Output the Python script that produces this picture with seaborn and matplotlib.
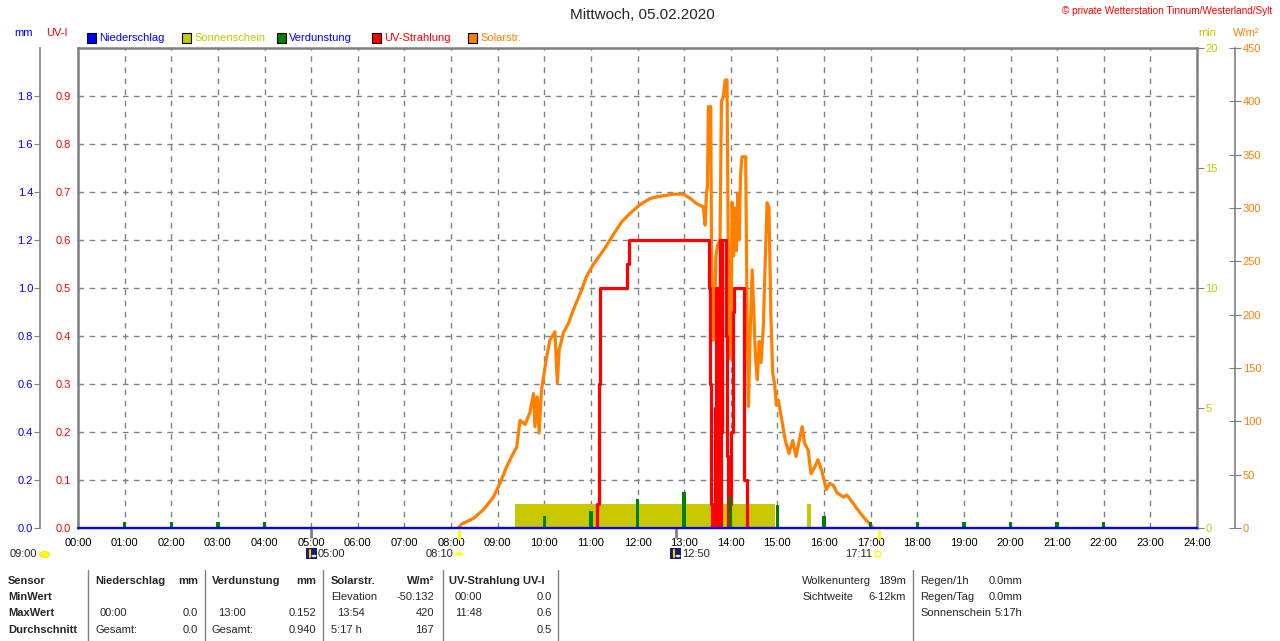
import matplotlib
matplotlib.use("Agg")
import matplotlib.pyplot as plt
import seaborn as sns
import numpy as np
from matplotlib.patches import Rectangle, Ellipse, Circle
from matplotlib.lines import Line2D

# ---------------- data ----------------
hours = list(range(0, 25))
hour_labels = [f"{h:02d}:00" for h in hours]

# Solar radiation (W/m2)
solar_t = [8.15, 8.24, 8.48, 8.69, 8.91, 9.05, 9.19, 9.30, 9.41, 9.48,
           9.59, 9.69, 9.77, 9.80, 9.85, 9.89, 9.94, 10.05, 10.12, 10.23,
           10.28, 10.32, 10.41, 10.52, 10.62, 10.77, 10.91, 11.05, 11.20, 11.34,
           11.48, 11.66, 11.84, 12.05, 12.27, 12.48, 12.77, 12.98, 13.13, 13.27,
           13.41, 13.45, 13.48, 13.50, 13.52, 13.57, 13.59, 13.62, 13.65, 13.68,
           13.72, 13.77, 13.80, 13.84, 13.88, 13.92, 13.94, 13.97, 14.00, 14.03,
           14.06, 14.09, 14.12, 14.15, 14.18, 14.21, 14.24, 14.32, 14.35, 14.38,
           14.42, 14.46, 14.50, 14.53, 14.57, 14.61, 14.65, 14.70, 14.74, 14.78,
           14.82, 14.86, 14.90, 14.94, 14.98, 15.02, 15.08, 15.17, 15.25, 15.33,
           15.40, 15.47, 15.53, 15.58, 15.66, 15.72, 15.80, 15.87, 15.95, 16.05,
           16.12, 16.20, 16.28, 16.42, 16.49, 16.61, 16.76, 16.91, 17.00, 17.05]
solar_w = [0, 4, 9, 17, 29, 42, 57, 67, 76, 101,
           97, 108, 126, 95, 123, 89, 129, 160, 176, 184,
           136, 167, 183, 192, 204, 220, 236, 247, 256, 265,
           275, 287, 295, 303, 309, 311, 313, 313, 309, 304,
           301, 284, 314, 320, 395, 395, 250, 176, 180, 255,
           265, 270, 400, 404, 420, 420, 298, 159, 160, 305,
           255, 300, 260, 314, 270, 330, 348, 348, 200, 114,
           190, 242, 195, 160, 139, 175, 155, 190, 250, 305,
           300, 200, 145, 135, 115, 120, 105, 82, 70, 82,
           67, 82, 95, 80, 73, 51, 57, 64, 54, 36,
           42, 40, 33, 29, 31, 24, 15, 7, 3, 0]

# UV index (step line)
uv_t = [0.0, 11.14, 11.17, 11.19, 11.77, 11.81, 13.54, 13.56, 13.58, 13.60,
        13.66, 13.68, 13.70, 13.71, 13.72, 13.74, 13.75, 13.76, 13.78, 13.79,
        13.81, 13.82, 13.89, 13.91, 13.94,
        13.99, 14.01, 14.04, 14.06, 14.28, 14.34, 24.0]
uv_v = [0.0, 0.05, 0.3, 0.5, 0.55, 0.6, 0.5, 0.3, 0.05, 0.0,
        0.25, 0.5, 0.05, 0.5, 0.0, 0.3, 0.05, 0.6, 0.0, 0.6,
        0.2, 0.6, 0.4, 0.15, 0.0,
        0.05, 0.2, 0.45, 0.5, 0.1, 0.0, 0.0]

# Evaporation (mm per hour)
evap_t = [1, 2, 3, 4, 10, 11, 12, 13, 14, 15, 16, 17, 18, 19, 20, 21, 22]
evap_v = [0.025, 0.025, 0.025, 0.025, 0.05, 0.072, 0.122, 0.152, 0.128,
          0.097, 0.049, 0.025, 0.025, 0.025, 0.025, 0.025, 0.025]

# Precipitation (mm)
rain_t = [0, 24]
rain_v = [0.0, 0.0]

# Sunshine (min)
sun_start = [9.37, 15.63]
sun_end = [14.95, 15.73]
sun_min = [1.0, 1.0]

# astronomical markers
moon_marks = [5.0, 12.833]
sun_marks = [8.167, 17.183]

# ---------------- style ----------------
sns.set_style("white")
plt.rcParams['font.family'] = ['Liberation Sans', 'DejaVu Sans']

C_BLUE = '#0000FF'
C_RED = '#FF0000'
C_YEL = '#C8C800'
C_GRN = '#008000'
C_ORG = '#FF8000'
C_GRAY = '#808080'

W, H = 1280, 641
def fx(x):
    return x / W
def fy(y):
    return 1 - y / H
def px2pt(p):
    return p * 72 / 100

fig = plt.figure(figsize=(12.8, 6.41), dpi=100)
fig.patch.set_facecolor('white')

ax = fig.add_axes([fx(78), fy(528), 1119 / W, 480 / H])
ax.set_zorder(0)
ax.set_xlim(0, 24)
ax.set_ylim(0, 1.0)
ax.set_xticks(hours)
ax.set_xticklabels(hour_labels)
uv_ticks = [round(0.1 * i, 1) for i in range(10)]
ax.set_yticks(uv_ticks)
ax.set_yticklabels([f"{v:.1f}" for v in uv_ticks])
ax.grid(True, color=C_GRAY, linestyle=(0, (4, 4)), linewidth=1)
ax.tick_params(axis='y', colors=C_RED, length=0, pad=5, labelsize=8)
ax.tick_params(axis='x', colors=C_GRAY, labelcolor='black', length=3, pad=4.5, labelsize=8)
for s in ['left', 'top', 'right']:
    ax.spines[s].set_color(C_GRAY)
    ax.spines[s].set_linewidth(px2pt(2.5))
ax.spines['bottom'].set_color(C_GRAY)
ax.spines['bottom'].set_linewidth(1)

def twin(z):
    t = ax.twinx()
    t.set_zorder(z)
    t.patch.set_visible(False)
    for s in t.spines.values():
        s.set_visible(False)
    t.set_xlim(0, 24)
    return t

# sunshine (min axis)
ax_min = twin(1)
ax_min.set_ylim(0, 20)
ax_min.bar(sun_start, sun_min, width=np.array(sun_end) - np.array(sun_start),
           align='edge', color=C_YEL, linewidth=0)
ax_min.set_yticks([0, 5, 10, 15, 20])
ax_min.tick_params(axis='y', which='both', right=True, left=False, labelright=True,
                   labelleft=False, colors=C_GRAY, labelcolor=C_YEL, length=5, pad=1,
                   labelsize=8)

# solar radiation
ax_sol = twin(2)
ax_sol.set_ylim(0, 450)
sns.lineplot(x=solar_t, y=solar_w, ax=ax_sol, color=C_ORG, linewidth=2.3,
             estimator=None, sort=False)
ax_sol.set_ylabel('')
ax_sol.set_yticks(list(range(0, 451, 50)))
ax_sol.spines['right'].set_visible(True)
ax_sol.spines['right'].set_position(('outward', px2pt(38)))
ax_sol.spines['right'].set_color(C_GRAY)
ax_sol.spines['right'].set_linewidth(1.2)
ax_sol.tick_params(axis='y', right=True, left=False, labelright=True, labelleft=False,
                   direction='inout', colors=C_GRAY, labelcolor=C_ORG, length=9,
                   pad=1, labelsize=8)

# UV
ax_uv = twin(3)
ax_uv.set_ylim(0, 1.0)
sns.lineplot(x=uv_t, y=uv_v, ax=ax_uv, color=C_RED, linewidth=2.3,
             drawstyle='steps-post', estimator=None, sort=False)
ax_uv.set_ylabel('')
ax_uv.set_yticks([])

# mm axis: evaporation + precipitation
ax_mm = twin(4)
ax_mm.set_ylim(0, 2.0)
ax_mm.bar(evap_t, evap_v, width=0.075, color=C_GRN, linewidth=0)
sns.lineplot(x=rain_t, y=rain_v, ax=ax_mm, color=C_BLUE, linewidth=1.6,
             estimator=None, sort=False, clip_on=False)
ax_mm.set_ylabel('')
mm_ticks = [round(0.2 * i, 1) for i in range(10)]
ax_mm.set_yticks(mm_ticks)
ax_mm.set_yticklabels([f"{v:.1f}" for v in mm_ticks])
ax_mm.yaxis.tick_left()
ax_mm.spines['left'].set_visible(True)
ax_mm.spines['left'].set_position(('outward', px2pt(38)))
ax_mm.spines['left'].set_color(C_GRAY)
ax_mm.spines['left'].set_linewidth(1.2)
ax_mm.tick_params(axis='y', left=True, right=False, labelleft=True, labelright=False,
                  colors=C_GRAY, labelcolor=C_BLUE, length=4, pad=1, labelsize=8)
for t in (ax_min, ax_sol, ax_uv, ax_mm):
    t.set_xlim(0, 24)

# astronomical ticks below the axis
ax.vlines(moon_marks, 0, -0.02, transform=ax.get_xaxis_transform(), colors=C_GRAY,
          linewidth=2, clip_on=False)
ax.vlines(sun_marks, -0.002, -0.025, transform=ax.get_xaxis_transform(), colors='#FFFF00',
          linewidth=2, clip_on=False)

# ---------------- texts ----------------
fig.text(0.5015, fy(15), "Mittwoch, 05.02.2020", ha='center', va='center', fontsize=11)
fig.text(fx(1272), fy(11), "© private Wetterstation Tinnum/Westerland/Sylt", ha='right',
         va='center', fontsize=7.2, color=C_RED)
fig.text(fx(14), fy(33), "mm", color=C_BLUE, fontsize=8, va='center')
fig.text(fx(46), fy(33), "UV-I", color=C_RED, fontsize=8, va='center')
fig.text(fx(1198), fy(33), "min", color=C_YEL, fontsize=8, va='center')
fig.text(fx(1233), fy(33), "W/m²", color=C_ORG, fontsize=8, va='center')

legend_items = [(87, "Niederschlag", C_BLUE, C_BLUE), (182, "Sonnenschein", C_YEL, C_YEL),
                (277, "Verdunstung", C_GRN, C_BLUE), (372, "UV-Strahlung", C_RED, C_RED),
                (468, "Solarstr.", C_ORG, C_ORG)]
for x0, lab, fc, tc in legend_items:
    fig.add_artist(Rectangle((fx(x0), fy(43)), 9 / W, 10 / H, transform=fig.transFigure,
                             facecolor=fc, edgecolor='black', linewidth=0.8))
    fig.text(fx(x0 + 12), fy(38), lab, color=tc, fontsize=8, va='center')

# sunrise / moon row
row_y = 554
fig.text(fx(10), fy(row_y), "09:00", fontsize=8, va='center')
fig.add_artist(Ellipse((fx(44.5), fy(554.5)), 10 / W, 6 / H, transform=fig.transFigure,
                       facecolor='#FFFF00', edgecolor='#E0E000', linewidth=0.5))

def moon_icon(x0):
    fig.add_artist(Rectangle((fx(x0), fy(559)), 11 / W, 11 / H, transform=fig.transFigure,
                             facecolor='#1A1A6E', edgecolor='none'))
    fig.add_artist(Circle((fx(x0 + 8), fy(556)), 2.5 / W, transform=fig.transFigure,
                          facecolor='#E8E8F0', edgecolor='none'))
    fig.add_artist(Line2D([fx(x0 + 4), fx(x0 + 4)], [fy(550), fy(557)],
                          transform=fig.transFigure, color='#FFD800', linewidth=1.5))

moon_icon(306)
fig.text(fx(318), fy(row_y), "05:00", fontsize=8, va='center')
fig.text(fx(426), fy(row_y), "08:10", fontsize=8, va='center')
fig.add_artist(Circle((fx(459), fy(554)), 5.5 / W, transform=fig.transFigure,
                      facecolor='#FFFFC0', edgecolor='none'))
fig.add_artist(Circle((fx(459), fy(554)), 3.5 / W, transform=fig.transFigure,
                      facecolor='#FFFF00', edgecolor='none'))
moon_icon(670)
fig.text(fx(682), fy(row_y), "12:50", fontsize=8, va='center')
fig.text(fx(845), fy(row_y), "17:11", fontsize=8, va='center')
fig.add_artist(Rectangle((fx(875), fy(556)), 5 / W, 5 / H, transform=fig.transFigure,
                         facecolor='white', edgecolor='#FFFF00', linewidth=1))

# ---------------- bottom table ----------------
for xl in [88, 205, 323, 443, 558, 913]:
    fig.add_artist(Line2D([fx(xl), fx(xl)], [fy(570), fy(641)], transform=fig.transFigure,
                          color=C_GRAY, linewidth=1))

rows = [581, 597, 613, 630]
def t(x, y, s, bold=False, ha='left'):
    fig.text(fx(x), fy(y), s, fontsize=8, va='center', ha=ha,
             fontweight='bold' if bold else 'normal')

for y, s in zip(rows, ["Sensor", "MinWert", "MaxWert", "Durchschnitt"]):
    t(8, y, s, bold=True)
t(95, rows[0], "Niederschlag", bold=True)
t(198, rows[0], "mm", bold=True, ha='right')
t(100, rows[2], "00:00"); t(198, rows[2], "0.0", ha='right')
t(95, rows[3], "Gesamt:"); t(198, rows[3], "0.0", ha='right')

t(212, rows[0], "Verdunstung", bold=True)
t(316, rows[0], "mm", bold=True, ha='right')
t(218, rows[2], "13:00"); t(316, rows[2], "0.152", ha='right')
t(212, rows[3], "Gesamt:"); t(316, rows[3], "0.940", ha='right')

t(331, rows[0], "Solarstr.", bold=True)
t(434, rows[0], "W/m²", bold=True, ha='right')
t(331, rows[1], "Elevation"); t(434, rows[1], "-50.132", ha='right')
t(337, rows[2], "13:54"); t(434, rows[2], "420", ha='right')
t(331, rows[3], "5:17 h"); t(434, rows[3], "167", ha='right')

t(449, rows[0], "UV-Strahlung UV-I", bold=True)
t(455, rows[1], "00:00"); t(552, rows[1], "0.0", ha='right')
t(455, rows[2], "11:48"); t(552, rows[2], "0.6", ha='right')
t(552, rows[3], "0.5", ha='right')

t(802, rows[0], "Wolkenunterg"); t(906, rows[0], "189m", ha='right')
t(802, rows[1], "Sichtweite"); t(906, rows[1], "6-12km", ha='right')
t(920, rows[0], "Regen/1h"); t(1022, rows[0], "0.0mm", ha='right')
t(920, rows[1], "Regen/Tag"); t(1022, rows[1], "0.0mm", ha='right')
t(920, rows[2], "Sonnenschein"); t(1022, rows[2], "5:17h", ha='right')

fig.savefig("out.png", dpi=100, facecolor='white')
